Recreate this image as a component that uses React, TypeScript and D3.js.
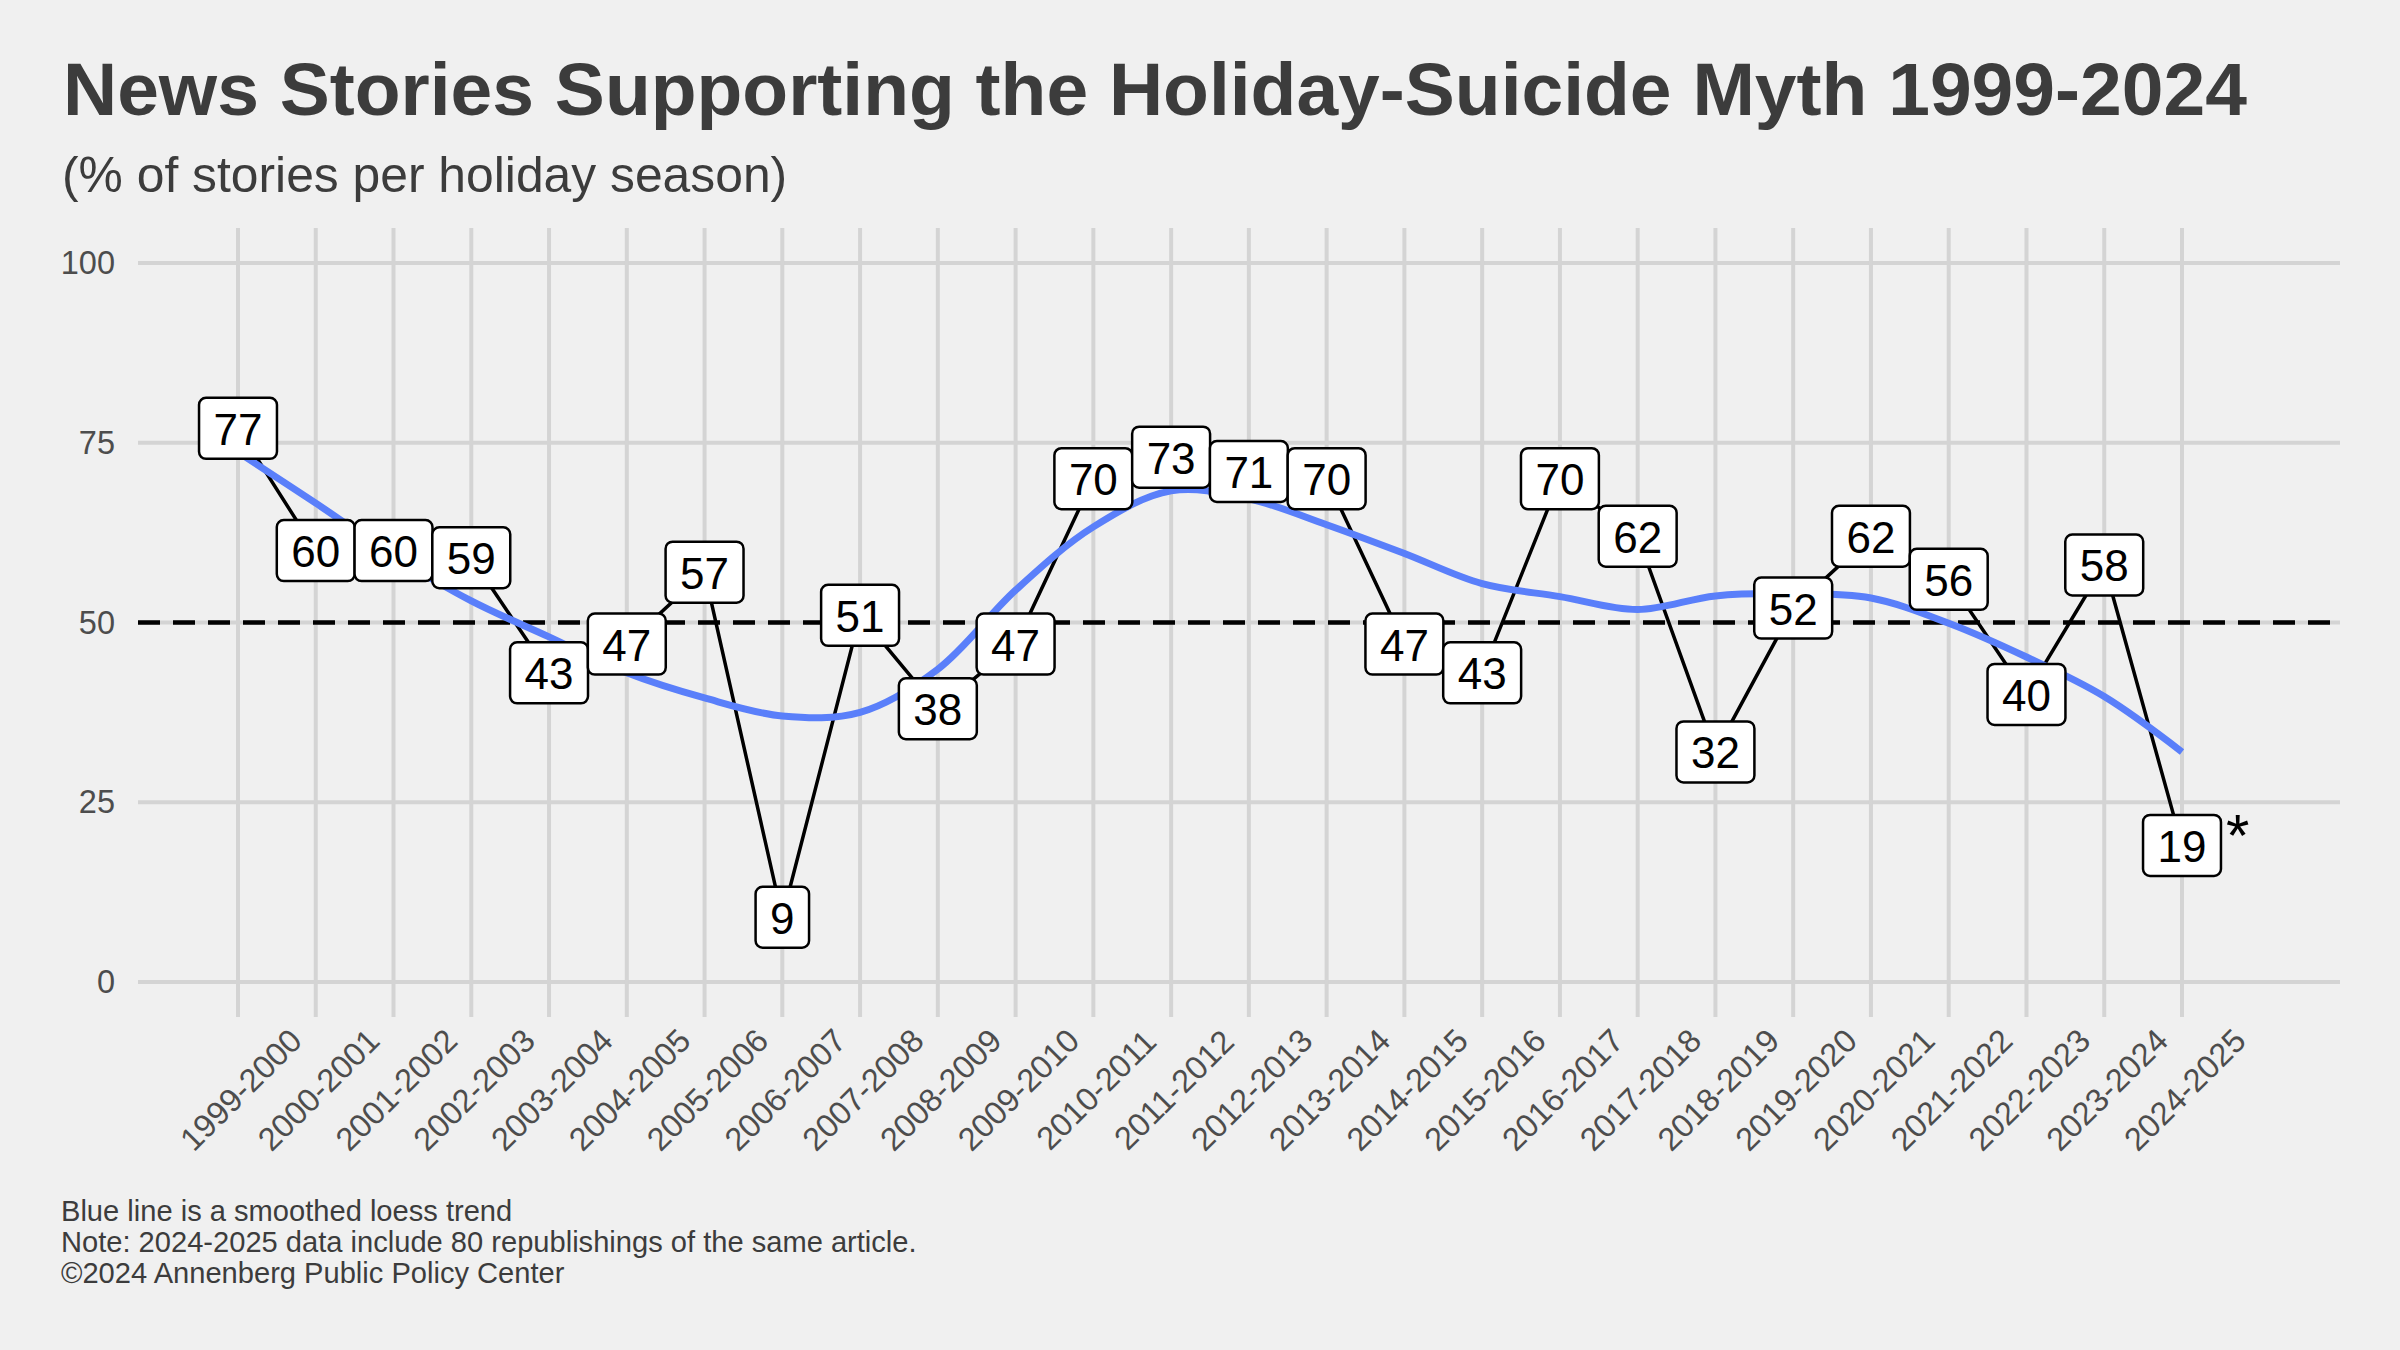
import React from "react";
import * as d3 from "d3";

// Holiday seasons on the x axis
const seasons = [
  "1999-2000", "2000-2001", "2001-2002", "2002-2003", "2003-2004", "2004-2005",
  "2005-2006", "2006-2007", "2007-2008", "2008-2009", "2009-2010", "2010-2011",
  "2011-2012", "2012-2013", "2013-2014", "2014-2015", "2015-2016", "2016-2017",
  "2017-2018", "2018-2019", "2019-2020", "2020-2021", "2021-2022", "2022-2023",
  "2023-2024", "2024-2025",
];

// % of stories supporting the myth
const percentages = [
  77, 60, 60, 59, 43, 47, 57, 9, 51, 38, 47, 70, 73, 71, 70, 47, 43, 70, 62, 32,
  52, 62, 56, 40, 58, 19,
];

// loess trend, one value per season
const trend = [
  73.7, 66.6, 59.3, 53.0, 48.0, 43.0, 39.5, 37.0, 37.5, 43.5, 54.5, 63.3, 68.3,
  67.2, 63.6, 59.6, 55.4, 53.6, 51.8, 53.7, 54.0, 53.4, 49.9, 45.2, 39.7, 32.0,
];

const yTicks = [0, 25, 50, 75, 100];
const referenceLine = 50;
const flagged = "2024-2025";

const W = 2400;
const H = 1350;
const FONT = "'Liberation Sans', Arial, Helvetica, sans-serif";
const panel = { left: 138, right: 2340, top: 228, bottom: 1017 };

const App: React.FC = () => {
  const x = d3.scalePoint<string>().domain(seasons).range([238, 2182]).padding(0);
  const y = d3.scaleLinear().domain([0, 100]).range([982, 263]);

  const dataLine = d3
    .line<number>()
    .x((_, i) => x(seasons[i]) || 0)
    .y((d) => y(d));

  const trendLine = d3
    .line<number>()
    .x((_, i) => x(seasons[i]) || 0)
    .y((d) => y(d))
    .curve(d3.curveCatmullRom.alpha(0.5));

  const labelFont = 44;
  const boxH = 61;

  return (
    <svg
      width={W}
      height={H}
      style={{ position: "absolute", left: 0, top: 0, display: "block" }}
      fontFamily={FONT}
    >
      <rect width={W} height={H} fill="#f0f0f0" />

      {/* Titles */}
      <text x={63} y={115} fontSize={75} fontWeight="bold" fill="#3c3c3c">
        News Stories Supporting the Holiday-Suicide Myth 1999-2024
      </text>
      <text x={62} y={192} fontSize={49.8} fill="#3c3c3c">
        (% of stories per holiday season)
      </text>

      {/* Grid */}
      {yTicks.map((t) => (
        <line
          key={"h" + t}
          x1={panel.left}
          x2={panel.right}
          y1={y(t)}
          y2={y(t)}
          stroke="#d4d4d4"
          strokeWidth={4}
        />
      ))}
      {seasons.map((s) => (
        <line
          key={"v" + s}
          x1={x(s)}
          x2={x(s)}
          y1={panel.top}
          y2={panel.bottom}
          stroke="#d4d4d4"
          strokeWidth={4}
        />
      ))}

      {/* Y axis labels */}
      {yTicks.map((t) => (
        <text
          key={"yl" + t}
          x={115}
          y={y(t)}
          fontSize={32.5}
          fill="#4d4d4d"
          textAnchor="end"
          dominantBaseline="central"
        >
          {t}
        </text>
      ))}

      {/* X axis labels */}
      {seasons.map((s) => (
        <text
          key={"xl" + s}
          transform={`translate(${(x(s) || 0) + 3},1090) rotate(-45)`}
          fontSize={32.5}
          fill="#4d4d4d"
          textAnchor="middle"
          dominantBaseline="central"
        >
          {s}
        </text>
      ))}

      {/* 50% reference */}
      <line
        x1={panel.left}
        x2={panel.right}
        y1={y(referenceLine)}
        y2={y(referenceLine)}
        stroke="#000"
        strokeWidth={4.5}
        strokeDasharray="22 13"
      />

      {/* Data */}
      <path d={dataLine(percentages) || ""} fill="none" stroke="#000" strokeWidth={3.5} />
      <path d={trendLine(trend) || ""} fill="none" stroke="#5a7ffa" strokeWidth={7} />

      {/* Value labels */}
      {percentages.map((v, i) => {
        const cx = x(seasons[i]) || 0;
        const cy = y(v);
        const bw = String(v).length * 0.556 * labelFont + 29;
        return (
          <g key={"lab" + i}>
            <rect
              x={cx - bw / 2}
              y={cy - boxH / 2}
              width={bw}
              height={boxH}
              rx={7}
              fill="#fff"
              stroke="#000"
              strokeWidth={2.5}
            />
            <text
              x={cx}
              y={cy + 1}
              fontSize={labelFont}
              textAnchor="middle"
              dominantBaseline="central"
              fill="#000"
            >
              {v}
            </text>
          </g>
        );
      })}
      <text
        x={(x(flagged) || 0) + 44}
        y={y(percentages[seasons.indexOf(flagged)]) + 11}
        fontSize={60}
        fill="#000"
      >
        *
      </text>

      {/* Caption */}
      <g fontSize={29.1} fill="#3c3c3c">
        <text x={61} y={1221}>Blue line is a smoothed loess trend</text>
        <text x={61} y={1252}>Note: 2024-2025 data include 80 republishings of the same article.</text>
        <text x={61} y={1283}>©2024 Annenberg Public Policy Center</text>
      </g>
    </svg>
  );
};

export default App;
